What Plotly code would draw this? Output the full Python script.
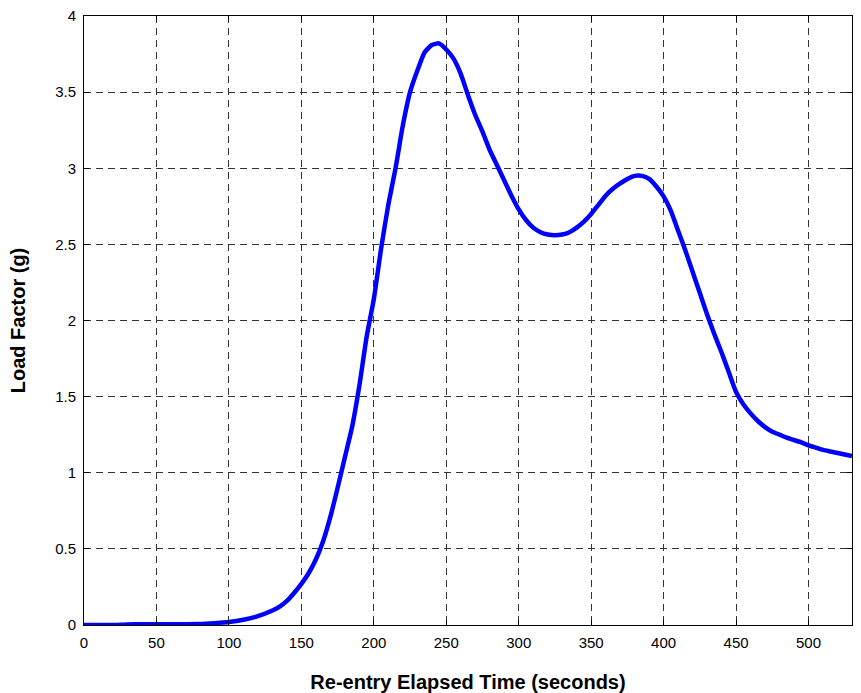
import plotly.graph_objects as go

time_s = [0, 10, 20, 30, 40, 50, 60, 70, 80, 90, 100, 110, 120, 130, 135, 140, 145,
          150, 155, 160, 165, 170, 175, 180, 185, 190, 195, 200, 205, 210, 215,
          220, 225, 230, 235, 240, 245, 250, 255, 260, 265, 270, 275, 280, 285,
          290, 295, 300, 305, 310, 315, 320, 325, 330, 335, 340, 345, 350, 355,
          360, 365, 370, 375, 380, 385, 390, 395, 400, 405, 410, 415, 420, 425,
          430, 435, 440, 445, 450, 455, 460, 465, 470, 475, 480, 485, 490, 495,
          500, 505, 510, 515, 520, 525, 530]
load_g = [0.0, 0.0, 0.0, 0.004, 0.005, 0.005, 0.005, 0.005, 0.006, 0.012, 0.02, 0.035,
          0.058, 0.095, 0.12, 0.158, 0.21, 0.27, 0.34, 0.43, 0.55, 0.71, 0.90, 1.10,
          1.30, 1.57, 1.89, 2.14, 2.47, 2.76, 3.00, 3.28, 3.50, 3.64, 3.76, 3.81,
          3.82, 3.78, 3.72, 3.62, 3.48, 3.35, 3.24, 3.12, 3.02, 2.92, 2.82, 2.73,
          2.66, 2.61, 2.58, 2.565, 2.56, 2.565, 2.58, 2.61, 2.65, 2.70, 2.76, 2.82,
          2.865, 2.90, 2.93, 2.95, 2.95, 2.93, 2.88, 2.815, 2.72, 2.59, 2.46, 2.32,
          2.18, 2.04, 1.91, 1.79, 1.66, 1.53, 1.45, 1.39, 1.34, 1.30, 1.27, 1.25,
          1.23, 1.215, 1.20, 1.18, 1.165, 1.15, 1.14, 1.13, 1.12, 1.11]

x_ticks = [0, 50, 100, 150, 200, 250, 300, 350, 400, 450, 500]
y_ticks = [0, 0.5, 1, 1.5, 2, 2.5, 3, 3.5, 4]
y_tick_text = ["0", "0.5", "1", "1.5", "2", "2.5", "3", "3.5", "4"]

font_family = "Liberation Sans, Arial, sans-serif"

fig = go.Figure()
fig.add_trace(go.Scatter(
    x=time_s, y=load_g, mode="lines",
    line=dict(color="#0000FF", width=4.5, shape="spline", smoothing=0.5),
    showlegend=False, hoverinfo="x+y",
))

axis_common = dict(
    showline=True, linecolor="black", linewidth=1, mirror="ticks",
    ticks="inside", ticklen=5, tickcolor="black", tickwidth=1,
    showgrid=True, gridcolor="#333333", gridwidth=1, griddash="7px,5px",
    zeroline=False, automargin=False,
    tickfont=dict(family=font_family, size=15, color="black"),
)

fig.update_xaxes(
    range=[0, 530], tickvals=x_ticks, ticktext=[str(v) for v in x_ticks],
    title=dict(text="<b>Re-entry Elapsed Time (seconds)</b>",
               font=dict(family=font_family, size=20, color="black"), standoff=25),
    ticklabelstandoff=4,
    **axis_common,
)
fig.update_yaxes(
    range=[0, 4], tickvals=y_ticks, ticktext=y_tick_text,
    title=dict(text="<b>Load Factor (g)</b>",
               font=dict(family=font_family, size=20, color="black"), standoff=24),
    ticklabelstandoff=4,
    **axis_common,
)

fig.update_layout(
    width=861, height=693,
    margin=dict(l=84, r=9, t=16, b=68),
    paper_bgcolor="white", plot_bgcolor="white",
    font=dict(family=font_family, color="black"),
)

fig.write_html("out.html")
